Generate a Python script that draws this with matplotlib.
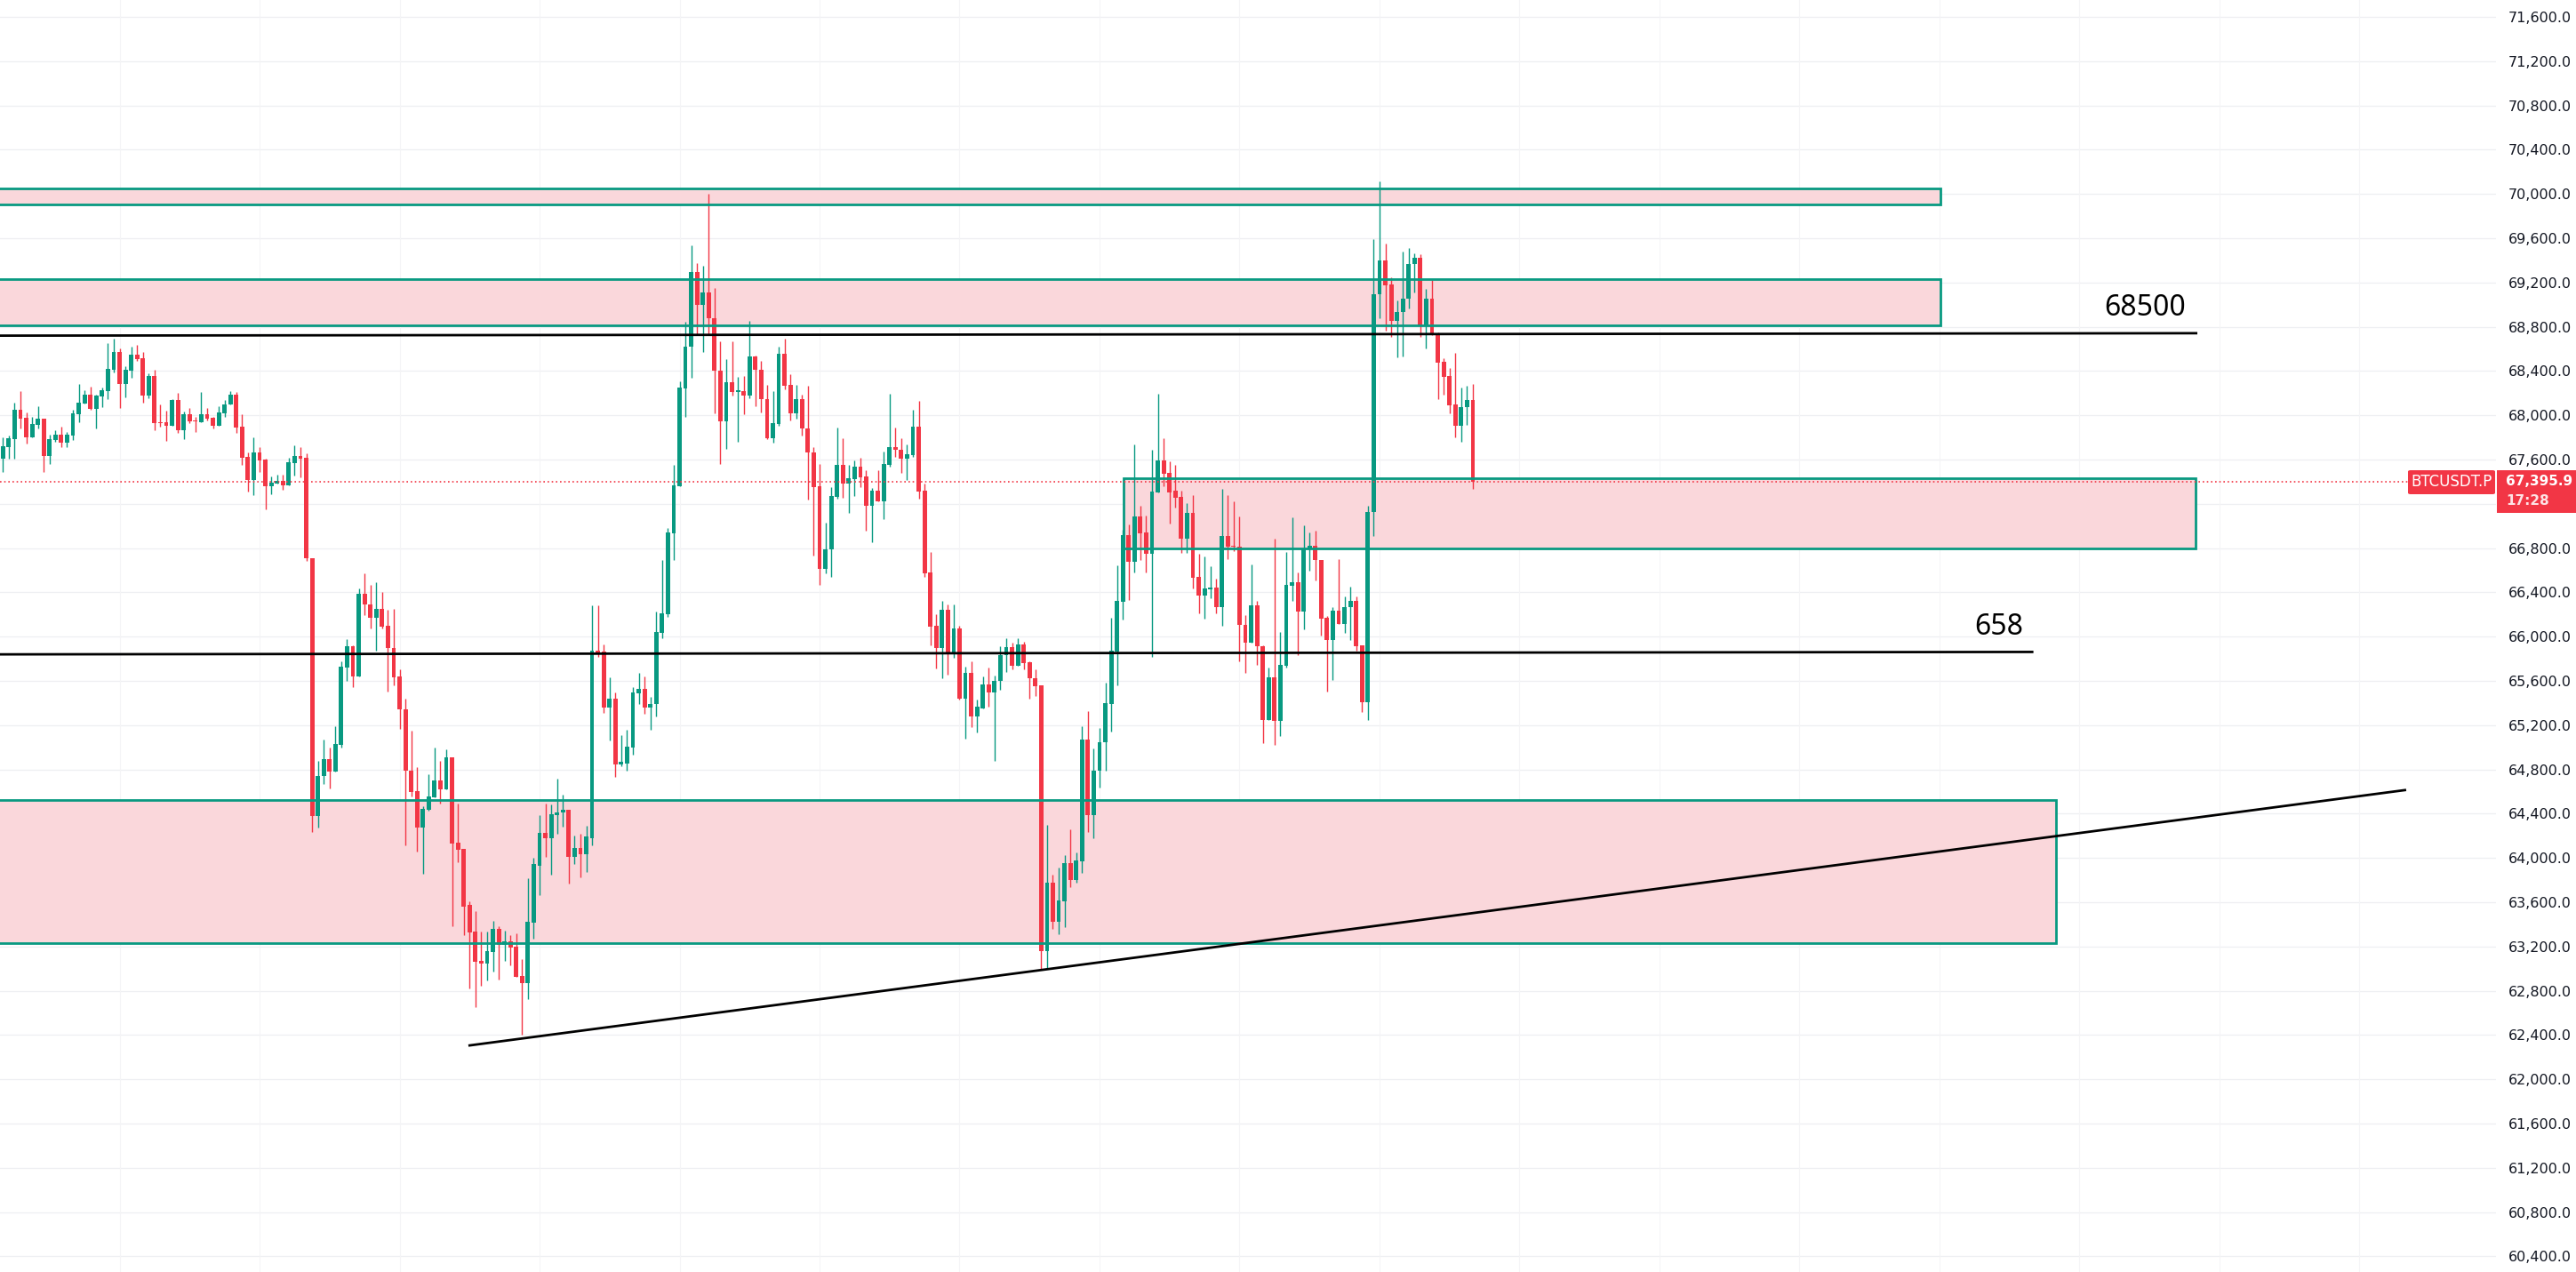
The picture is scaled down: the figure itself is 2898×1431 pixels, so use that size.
import numpy as np
import matplotlib
matplotlib.use('Agg')
import matplotlib.pyplot as plt
from matplotlib.patches import Rectangle, FancyBboxPatch

# swieczki 1h BTCUSDT.P
opens = [
    67606, 67711, 67785, 68049, 67978, 67800, 67913, 67969, 67630, 67779,
    67829, 67752, 67820, 68008, 68106, 68186, 68058, 68171, 68222, 68412,
    68572, 68281, 68403, 68549, 68516, 68177, 68355, 67936, 67936, 67904,
    68138, 67865, 68008, 67954, 67936, 68008, 67978, 67904, 68017, 68097,
    68186, 67898, 67624, 67413, 67663, 67601, 67357, 67384, 67407, 67366,
    67568, 67630, 67615, 66706, 64382, 64741, 64896, 64780, 65023, 65719,
    65915, 65639, 66385, 66295, 66168, 66254, 66102, 65900, 65639, 65347,
    64792, 64607, 64272, 64438, 64551, 64697, 64622, 64913, 64135, 64084,
    63573, 63338, 63074, 63050, 63154, 63362, 63211, 63249, 63196, 62937,
    62872, 63419, 63933, 64230, 64182, 64390, 64408, 64432, 64007, 64093,
    64031, 64182, 65870, 65862, 65356, 65437, 64842, 64853, 64998, 65486,
    65526, 65360, 65394, 66034, 66203, 66934, 67361, 68244, 68623, 69297,
    68999, 69114, 68881, 68403, 67946, 68302, 68214, 68221, 68180, 68532,
    68414, 68143, 67797, 67923, 68559, 68278, 68017, 68143, 67882, 67662,
    67361, 66616, 66792, 67263, 67550, 67384, 67425, 67537, 67449, 67181,
    67320, 67225, 67550, 67713, 67686, 67608, 67642, 67899, 67320, 66582,
    66096, 65897, 66242, 65846, 66073, 65436, 65670, 65281, 65355, 65565,
    65494, 65602, 65836, 65904, 65734, 65927, 65768, 65626, 65558, 63162,
    63781, 63426, 63612, 63957, 63798, 63967, 65068, 64390, 64786, 65044,
    65389, 65866, 66317, 66916, 66675, 67085, 66939, 66746, 67302, 67593,
    67481, 67318, 67264, 66885, 67119, 66540, 66371, 66425, 66442, 66269,
    66909, 66824, 66811, 66110, 65949, 66285, 65916, 65248, 65632, 65235,
    65735, 66462, 66492, 66229, 66791, 66824, 66696, 66169, 65972, 66238,
    66117, 66271, 66321, 65923, 65408, 67124, 69091, 69403, 69180, 68851,
    68930, 69051, 69364, 69420, 68805, 69055, 68722, 68482, 68354, 68097,
    67907, 68071, 68137,
]
highs = [
    67800, 67820, 68115, 68219, 68026, 67984, 68082, 67969, 67823, 67865,
    67898, 67853, 68052, 68281, 68225, 68257, 68186, 68251, 68653, 68691,
    68605, 68442, 68620, 68635, 68572, 68379, 68412, 68097, 68040, 68147,
    68201, 68034, 68064, 67984, 68210, 68064, 67984, 68082, 68138, 68219,
    68210, 68008, 67663, 67800, 67711, 67606, 67446, 67464, 67464, 67615,
    67728, 67711, 67657, 66706, 64875, 65074, 64994, 65193, 65781, 65980,
    65924, 66435, 66575, 66465, 66495, 66400, 66239, 66248, 65707, 65437,
    65154, 64824, 64465, 64759, 64994, 64881, 64985, 64913, 64488, 64084,
    63612, 63517, 63338, 63338, 63433, 63386, 63347, 63300, 63323, 63089,
    63814, 63998, 64390, 64494, 64480, 64720, 64569, 64432, 64206, 64221,
    64295, 66287, 66287, 65933, 65636, 65493, 65107, 65161, 65546, 65672,
    65638, 65452, 66224, 66691, 66985, 67554, 68305, 68847, 69537, 69375,
    69355, 70004, 69151, 68671, 68508, 68671, 68349, 68356, 68857, 68542,
    68495, 68278, 68221, 68623, 68694, 68373, 68278, 68187, 68271, 67716,
    67561, 67029, 67351, 67889, 67797, 67554, 67594, 67618, 67503, 67347,
    67503, 67672, 68197, 67889, 67797, 67737, 68051, 68129, 67384, 66765,
    66201, 66323, 66289, 66289, 66096, 65728, 65778, 65430, 65640, 65717,
    65646, 65917, 65988, 65948, 65988, 65951, 65778, 65704, 65558, 64296,
    63846, 63917, 64028, 64262, 64049, 65189, 65331, 64986, 65172, 65582,
    66168, 66645, 66963, 67014, 67738, 67183, 67095, 67687, 68195, 67792,
    67586, 67552, 67318, 67210, 67278, 66746, 66726, 66635, 66523, 67332,
    67278, 67224, 67085, 66196, 66653, 66324, 65923, 65719, 66887, 66041,
    66762, 67081, 66581, 67008, 66943, 66959, 66696, 66186, 66271, 66702,
    66363, 66452, 66367, 65923, 67186, 69594, 70111, 69555, 69249, 69038,
    69476, 69509, 69466, 69459, 69140, 69226, 68745, 68515, 68426, 68565,
    68249, 68265, 68282,
]
lows = [
    67488, 67606, 67606, 67880, 67743, 67800, 67880, 67488, 67559, 67761,
    67711, 67711, 67779, 67936, 68106, 68049, 67880, 68073, 68144, 68391,
    68064, 68162, 68338, 68492, 68115, 68153, 67865, 67898, 67767, 67904,
    67841, 67785, 67927, 67847, 67936, 67954, 67880, 67904, 67984, 68097,
    67841, 67550, 67309, 67277, 67488, 67149, 67286, 67384, 67327, 67366,
    67455, 67440, 66682, 64233, 64275, 64667, 64631, 64780, 64994, 65603,
    65544, 65639, 66191, 66078, 65870, 66072, 65508, 65564, 65163, 64117,
    64560, 64057, 63861, 64429, 64545, 64488, 64622, 63380, 63965, 63306,
    62824, 62655, 62848, 62890, 62970, 62904, 63074, 63032, 62928, 62405,
    62726, 63273, 63668, 64013, 63852, 64221, 64286, 63772, 63948, 63829,
    63876, 64111, 65820, 65315, 65059, 64729, 64833, 64790, 64937, 65394,
    65303, 65161, 65276, 65987, 66179, 66691, 67361, 67984, 68339, 68728,
    68573, 68728, 68017, 67561, 67693, 68180, 67764, 68011, 68153, 68085,
    68028, 67787, 67757, 67909, 68231, 67953, 67973, 67814, 67242, 66731,
    66464, 66576, 66542, 67246, 67256, 67120, 67269, 67354, 66961, 66850,
    67225, 67059, 67537, 67628, 67476, 67415, 67628, 67249, 66542, 65922,
    65711, 65626, 65656, 65812, 65430, 65078, 65183, 65135, 65355, 65365,
    64878, 65518, 65680, 65704, 65734, 65704, 65436, 65463, 62990, 63000,
    63359, 63311, 63376, 63737, 63781, 63866, 64238, 64177, 64634, 64793,
    65142, 65558, 66157, 66330, 66581, 66689, 66581, 65819, 67302, 67356,
    67021, 67166, 66757, 66757, 66432, 66212, 66164, 66347, 66212, 66100,
    66702, 66770, 65778, 65669, 65949, 65748, 65035, 65248, 65019, 65099,
    65719, 66324, 65834, 66067, 66597, 66512, 66011, 65505, 65610, 66117,
    66034, 65972, 65877, 65323, 65243, 66906, 68880, 68762, 68706, 68528,
    68535, 68966, 69107, 68706, 68607, 68722, 68150, 68189, 68015, 67801,
    67765, 67913, 67337,
]
closes = [
    67719, 67791, 68049, 67969, 67800, 67919, 67969, 67630, 67785, 67829,
    67752, 67823, 68017, 68115, 68186, 68058, 68177, 68225, 68418, 68572,
    68281, 68412, 68549, 68510, 68177, 68355, 67927, 67927, 67904, 68138,
    67865, 68008, 67945, 67948, 68008, 67969, 67904, 68026, 68097, 68186,
    67889, 67615, 67413, 67663, 67592, 67357, 67395, 67407, 67366, 67574,
    67630, 67606, 66706, 64382, 64738, 64896, 64780, 65032, 65725, 65915,
    65639, 66385, 66290, 66168, 66254, 66093, 65894, 65630, 65347, 64786,
    64598, 64272, 64447, 64560, 64697, 64622, 64913, 64129, 64078, 63564,
    63329, 63065, 63050, 63160, 63362, 63211, 63249, 63187, 62928, 62872,
    63427, 63942, 64230, 64182, 64399, 64408, 64432, 64007, 64093, 64031,
    64191, 65870, 65838, 65356, 65437, 64842, 64866, 65005, 65492, 65526,
    65360, 65394, 66041, 66210, 66941, 67368, 68251, 68623, 69297, 68999,
    69114, 68874, 68403, 67946, 68302, 68214, 68221, 68180, 68532, 68414,
    68143, 67797, 67929, 68559, 68271, 68017, 68143, 67882, 67662, 67354,
    66616, 66792, 67269, 67550, 67384, 67432, 67537, 67442, 67181, 67320,
    67225, 67561, 67713, 67686, 67608, 67649, 67899, 67313, 66576, 66091,
    65897, 66242, 65846, 66073, 65436, 65670, 65281, 65365, 65565, 65494,
    65602, 65836, 65904, 65734, 65927, 65761, 65626, 65552, 63162, 63781,
    63426, 63619, 63957, 63798, 63974, 65068, 64390, 64793, 65050, 65396,
    65873, 66323, 66916, 66675, 67085, 66933, 66746, 67312, 67593, 67471,
    67302, 67258, 66885, 67119, 66533, 66371, 66435, 66442, 66269, 66909,
    66817, 66811, 66107, 65949, 66285, 65916, 65248, 65632, 65235, 65742,
    66469, 66492, 66229, 66791, 66824, 66689, 66166, 65972, 66238, 66117,
    66271, 66321, 65916, 65408, 67130, 69097, 69403, 69173, 68851, 68936,
    69055, 69371, 69420, 68805, 69055, 68722, 68479, 68351, 68091, 67907,
    68071, 68137, 67395.9,
]

# strefy (pudelka) narysowane na wykresie: [od_swiecy, do_swiecy, dol, gora]
strefa_gorna = [-20, 332.1, 69907, 70053]
strefa_68900 = [-20, 332.1, 68812, 69232]
strefa_srodek = [192.1, 375.9, 66795, 67433]
strefa_dolna = [-20, 352.0, 63228, 64528]
strefy = [strefa_gorna, strefa_68900, strefa_srodek, strefa_dolna]

# linie poziomow i trendu: [x1, y1, x2, y2]
linia_68500 = [-1, 68720, 376.2, 68742]
linia_658 = [-1, 65840, 348.1, 65862]
linia_trendu = [79.8, 62305, 412.0, 64615]

ticki_y = np.arange(60400, 71601, 400)
ukryty_tick = 67200   # zasloniety przez etykiete ceny
symbol = 'BTCUSDT.P'
odliczanie = '17:28'

GREEN = '#089981'
RED = '#F23645'
W, H = 2898, 1431

opens = np.array(opens, dtype=float)
highs = np.array(highs, dtype=float)
lows = np.array(lows, dtype=float)
closes = np.array(closes, dtype=float)
idx = np.arange(len(closes))
up = closes >= opens
kolory = np.where(up, GREEN, RED)

fig = plt.figure(figsize=(W / 100, H / 100), dpi=100)
fig.patch.set_facecolor('white')
ax = fig.add_axes([0, 0, 2808 / W, 1])
ax.set_xlim(-0.5, 427.4)
ax.set_ylim(60259, 71753)

# siatka
for t in ticki_y:
    ax.axhline(t, color='#eeeff2', lw=0.9, zorder=0)
for gx in range(20, 428, 24):
    ax.axvline(gx, color='#f4f4f6', lw=0.8, zorder=0)

# wypelnienie stref pod swieczkami
for x0, x1, lo, hi in strefy:
    ax.add_patch(Rectangle((x0, lo), x1 - x0, hi - lo, facecolor='#fad7db',
                           edgecolor='none', zorder=1))

# swieczki
body_lo = np.minimum(opens, closes)
body_h = np.maximum(np.abs(closes - opens), 9)
ax.vlines(idx, lows, highs, colors=kolory, lw=1.0, zorder=2)
ax.bar(idx, body_h, bottom=body_lo, width=0.74, color=kolory, zorder=3,
       linewidth=0)

# ramki stref
for x0, x1, lo, hi in strefy:
    ax.add_patch(Rectangle((x0, lo), x1 - x0, hi - lo, facecolor='none',
                           edgecolor=GREEN, lw=2.0, zorder=4))

# linie
for x1, y1, x2, y2 in [linia_68500, linia_658, linia_trendu]:
    ax.plot([x1, x2], [y1, y2], color='black', lw=2.0, zorder=5,
            solid_capstyle='butt')

ax.text(374.2, 68966, '68500', ha='right', va='center', fontsize=23,
        family='Noto Sans', color='black', zorder=6)
ax.text(346.3, 66090, '658', ha='right', va='center', fontsize=23,
        family='Noto Sans', color='black', zorder=6)

# linia aktualnej ceny
ax.axhline(closes[-1], color=RED, lw=1.2, ls=(0, (1, 1.8)), zorder=5)

# os cen po prawej
ax.yaxis.tick_right()
ax.set_yticks(ticki_y)
ax.set_yticklabels(['' if t == ukryty_tick else f'{t:,.1f}' for t in ticki_y])
ax.tick_params(axis='y', length=0, pad=10, labelsize=11.5, labelcolor='#131722')
ax.set_xticks([])
for s in ax.spines.values():
    s.set_visible(False)

# etykieta ceny na osi
def px(x, y):
    return x / W, 1 - y / H

fig.add_artist(Rectangle(px(2809, 577), 89 / W, 48 / H, transform=fig.transFigure,
                         facecolor=RED, edgecolor='none', zorder=10))
fig.add_artist(FancyBboxPatch(px(2709, 556), 98 / W, 27 / H,
                              boxstyle='round,pad=0,rounding_size=0.001',
                              transform=fig.transFigure, facecolor=RED,
                              edgecolor='none', zorder=10))
fig.text(*px(2758, 542), symbol, ha='center', va='center', fontsize=12,
         color='white', zorder=11)
fig.text(*px(2819, 542), f'{closes[-1]:,.1f}', ha='left', va='center',
         fontsize=11, color='white', fontweight='semibold', zorder=11)
fig.text(*px(2819, 564), odliczanie, ha='left', va='center', fontsize=11,
         color='#fde3e5', fontweight='semibold', zorder=11)

fig.savefig('out.png', dpi=100, facecolor='white')
